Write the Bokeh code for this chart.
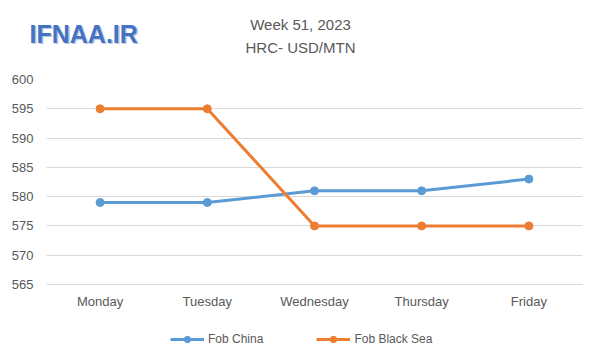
from bokeh.plotting import figure
from bokeh.layouts import column, row
from bokeh.models import Range1d, FactorRange, FixedTicker, Label, Legend, LegendItem
from bokeh.embed import file_html
from bokeh.resources import INLINE

days = ["Monday", "Tuesday", "Wednesday", "Thursday", "Friday"]
fob_china = [579, 579, 581, 581, 583]
fob_black_sea = [595, 595, 575, 575, 575]
y_ticks = [565, 570, 575, 580, 585, 590, 595, 600]
series_names = ["Fob China", "Fob Black Sea"]
title_lines = ["Week 51, 2023", "HRC- USD/MTN"]
logo_text = "IFNAA.IR"

BLUE = "#5B9BD5"
ORANGE = "#ED7D31"
GREY = "#595959"
FONT = "Liberation Sans"
W = 584
HEAD_H = 71

# ---- header strip (titles + logo); data coords = canvas pixels, y downwards
head = figure(width=W, height=HEAD_H, output_backend="svg", toolbar_location=None,
              x_range=Range1d(0, W), y_range=Range1d(HEAD_H, 0),
              x_axis_location=None, y_axis_location=None, min_border=0)
head.grid.visible = False
head.outline_line_color = None
head.border_fill_color = "white"
head.add_layout(Label(x=300, y=24, text=title_lines[0], text_align="center",
                      text_baseline="alphabetic", text_font=FONT,
                      text_font_size="15px", text_color=GREY))
head.add_layout(Label(x=300, y=47, text=title_lines[1], text_align="center",
                      text_baseline="alphabetic", text_font=FONT,
                      text_font_size="15px", text_color=GREY))
head.add_layout(Label(x=30.5, y=34.5, text=logo_text, text_align="left",
                      text_baseline="alphabetic", text_font=FONT, text_font_style="bold",
                      text_font_size="25px", text_color="#BFC9DC"))
head.add_layout(Label(x=29, y=33, text=logo_text, text_align="left",
                      text_baseline="alphabetic", text_font=FONT, text_font_style="bold",
                      text_font_size="25px", text_color="#4472C4"))

# ---- main chart
p = figure(width=W, height=252, output_backend="svg", toolbar_location=None,
           x_range=FactorRange(*days, range_padding=0), y_range=Range1d(565, 600),
           min_border_left=46, min_border_right=2, min_border_top=8, min_border_bottom=39)
p.outline_line_color = None
p.background_fill_color = "white"
p.border_fill_color = "white"

p.xgrid.grid_line_color = None
p.ygrid.grid_line_color = "#D9D9D9"
p.ygrid.grid_line_width = 1
p.yaxis.ticker = FixedTicker(ticks=y_ticks)
p.yaxis.axis_line_color = None
p.yaxis.major_tick_line_color = None
p.yaxis.minor_tick_line_color = None
p.yaxis.major_tick_out = 0
p.yaxis.major_label_standoff = 13
p.xaxis.axis_line_color = "#D9D9D9"
p.xaxis.major_tick_line_color = None
p.xaxis.minor_tick_line_color = None
p.xaxis.major_tick_out = 0
p.xaxis.major_label_standoff = 9
for ax in (p.xaxis, p.yaxis):
    ax.major_label_text_font = FONT
    ax.major_label_text_font_size = "13px"
    ax.major_label_text_color = GREY

p.line(days, fob_china, line_color=BLUE, line_width=3)
p.scatter(days, fob_china, size=8, fill_color=BLUE, line_color=BLUE)
p.line(days, fob_black_sea, line_color=ORANGE, line_width=3)
p.scatter(days, fob_black_sea, size=8, fill_color=ORANGE, line_color=ORANGE)

# ---- legend strip below the chart
lg = figure(width=W, height=30, output_backend="svg", toolbar_location=None,
            x_range=FactorRange(*days, range_padding=0), y_range=Range1d(0, 1),
            x_axis_location=None, y_axis_location=None, min_border=0)
lg.grid.visible = False
lg.outline_line_color = None
lg.border_fill_color = "white"
r1 = lg.line(days, fob_china, line_color=BLUE, line_width=3)
m1 = lg.scatter(days, fob_china, size=8, fill_color=BLUE, line_color=BLUE)
r2 = lg.line(days, fob_black_sea, line_color=ORANGE, line_width=3)
m2 = lg.scatter(days, fob_black_sea, size=8, fill_color=ORANGE, line_color=ORANGE)
legend = Legend(items=[LegendItem(label=series_names[0], renderers=[r1, m1]),
                       LegendItem(label=series_names[1], renderers=[r2, m2])],
                orientation="horizontal", location=(124, 6),
                padding=0, margin=0, spacing=53, glyph_width=34, glyph_height=16,
                label_height=16, label_standoff=4,
                label_text_font=FONT, label_text_font_size="12px", label_text_color=GREY,
                border_line_color=None, background_fill_alpha=0)
lg.add_layout(legend, "center")

layout = column(row(head), p, lg, spacing=0)
open("out.html", "w").write(file_html(layout, INLINE))
